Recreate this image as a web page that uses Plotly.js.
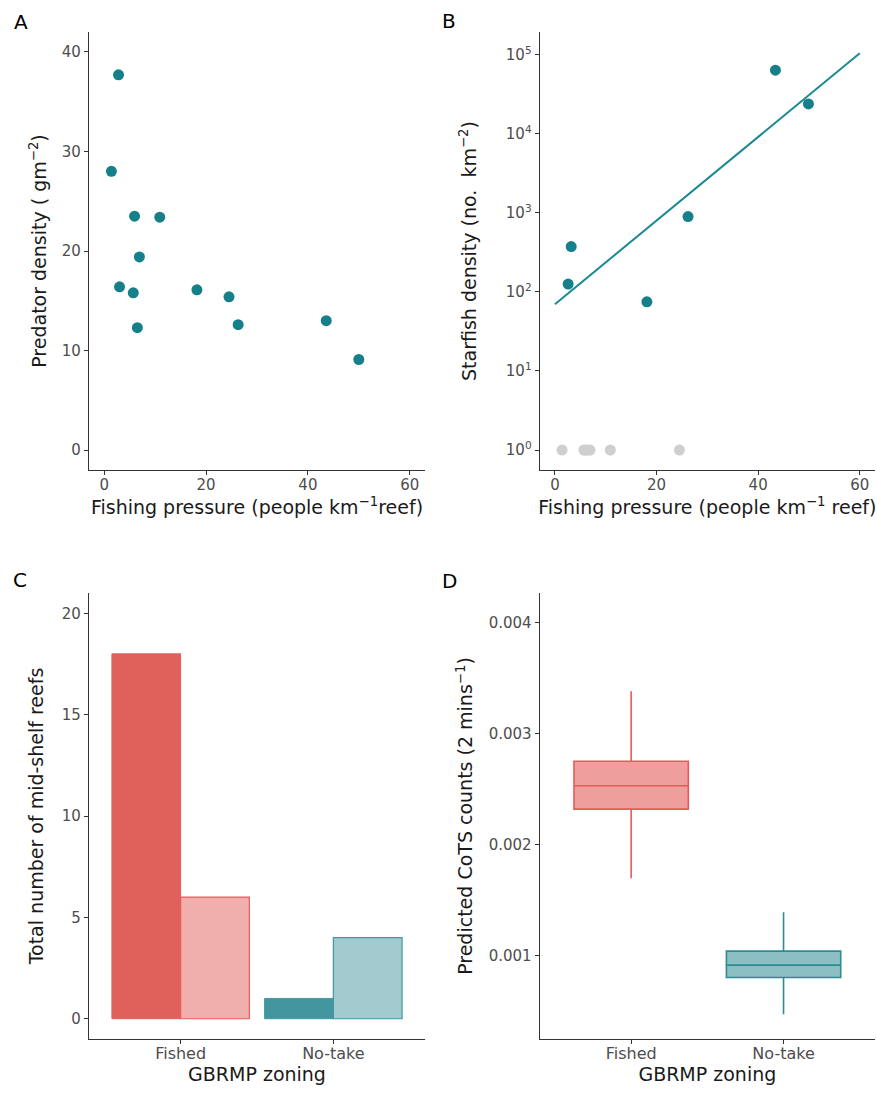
<!DOCTYPE html>
<html>
<head>
<meta charset="utf-8">
<script src="https://cdn.plot.ly/plotly-3.0.1.min.js"></script>
<style>html,body{margin:0;padding:0;background:#fff;}#plot{width:877px;height:1111px;}</style>
</head>
<body>
<div id="plot"></div>
<script>
// Panel A: fishing pressure vs predator density
const fishingA = [2.8, 1.4, 5.95, 10.9, 6.9, 3.0, 5.7, 6.5, 18.2, 24.5, 26.3, 43.6, 50.0];
const predatorA = [37.7, 28.0, 23.5, 23.4, 19.4, 16.4, 15.8, 12.3, 16.1, 15.4, 12.6, 13.0, 9.1];

// Panel B: fishing pressure vs starfish density
const fishingB = [43.4, 49.9, 26.2, 3.2, 2.6, 18.1];
const starfishB = [64000, 24000, 900, 375, 126, 75];
const fishingZero = [1.4, 5.7, 5.95, 6.5, 6.9, 10.9, 24.5];
const starfishZero = [1, 1, 1, 1, 1, 1, 1];
const fitX = [0, 60];
const fitY = [70, 105000];
const logTickVals = [1, 10, 100, 1000, 10000, 100000];
const logTickText = ["10<sup>0</sup>", "10<sup>1</sup>", "10<sup>2</sup>", "10<sup>3</sup>", "10<sup>4</sup>", "10<sup>5</sup>"];

// Panel C: reef counts by zoning
const zoning = ["Fished", "No-take"];
const countsDark = [18, 1];
const countsLight = [6, 4];

// Panel D: predicted CoTS counts (box summaries)
const boxQ1 = [0.002322, 0.000805];
const boxMedian = [0.002533, 0.000916];
const boxQ3 = [0.002753, 0.001042];
const boxLow = [0.0017, 0.000474];
const boxHigh = [0.003385, 0.001392];

const teal = "#16808A";
const FONT = "DejaVu Sans";

const traces = [
  {type: "scatter", mode: "markers", x: fishingA, y: predatorA, xaxis: "x", yaxis: "y",
   marker: {color: teal, size: 11}, showlegend: false},
  {type: "scatter", mode: "markers", x: fishingZero, y: starfishZero, xaxis: "x2", yaxis: "y2",
   marker: {color: "#CFCFCF", size: 11}, showlegend: false},
  {type: "scatter", mode: "lines", x: fitX, y: fitY, xaxis: "x2", yaxis: "y2",
   line: {color: "#1A8A92", width: 2}, showlegend: false},
  {type: "scatter", mode: "markers", x: fishingB, y: starfishB, xaxis: "x2", yaxis: "y2",
   marker: {color: teal, size: 11}, showlegend: false},
  {type: "bar", x: zoning, y: countsDark, xaxis: "x3", yaxis: "y3",
   marker: {color: ["#E0605C", "#42979E"], line: {color: ["#E0605C", "#42979E"], width: 1}}, showlegend: false},
  {type: "bar", x: zoning, y: countsLight, xaxis: "x3", yaxis: "y3",
   marker: {color: ["#F0AEAD", "#A3CBCF"], line: {color: ["#EC5A5A", "#3D9AA2"], width: 1.2}}, showlegend: false},
  {type: "box", x: [zoning[0]], q1: [boxQ1[0]], median: [boxMedian[0]], q3: [boxQ3[0]],
   lowerfence: [boxLow[0]], upperfence: [boxHigh[0]], xaxis: "x4", yaxis: "y4",
   fillcolor: "#EE9E9D", line: {color: "#E65A5A", width: 1.6}, whiskerwidth: 0, width: 0.75,
   boxpoints: false, showlegend: false},
  {type: "box", x: [zoning[1]], q1: [boxQ1[1]], median: [boxMedian[1]], q3: [boxQ3[1]],
   lowerfence: [boxLow[1]], upperfence: [boxHigh[1]], xaxis: "x4", yaxis: "y4",
   fillcolor: "#8CBFC3", line: {color: "#2A8D94", width: 1.6}, whiskerwidth: 0, width: 0.75,
   boxpoints: false, showlegend: false}
];

function ax(extra) {
  return Object.assign({
    showline: true, linecolor: "#333333", linewidth: 1.2,
    ticks: "outside", ticklen: 4, tickwidth: 1.1, tickcolor: "#333333",
    tickfont: {family: FONT, size: 15, color: "#4D4D4D"},
    showgrid: false, zeroline: false, fixedrange: true, automargin: false
  }, extra);
}
function ttl(text, standoff) {
  return {text: text, font: {family: FONT, size: 19, color: "#1A1A1A"}, standoff: standoff};
}
const catFont = {family: FONT, size: 16, color: "#4D4D4D"};

const xL = [89/877, 425/877], xR = [539.7/877, 875/877];
const yT = [1 - 470/1111, 1 - 32/1111], yB = [1 - 1039/1111, 1 - 593/1111];

const layout = {
  width: 877, height: 1111,
  margin: {l: 0, r: 0, t: 0, b: 0},
  paper_bgcolor: "#fff", plot_bgcolor: "#fff",
  font: {family: FONT},
  barmode: "group", bargap: 0.1, bargroupgap: 0,
  boxmode: "overlay",
  xaxis: ax({domain: xL, range: [-3, 63], tickvals: [0, 20, 40, 60], anchor: "y", ticklabelstandoff: -3,
             title: ttl("Fishing pressure (people km<sup>−1</sup>reef)", 6)}),
  yaxis: ax({domain: yT, range: [-2, 42], tickvals: [0, 10, 20, 30, 40], anchor: "x",
             title: ttl("Predator density ( gm<sup>−2</sup>)", 10)}),
  xaxis2: ax({domain: xR, range: [-3, 63], tickvals: [0, 20, 40, 60], anchor: "y2", ticklabelstandoff: -3,
             title: ttl("Fishing pressure (people km<sup>−1</sup> reef)", 6)}),
  yaxis2: ax({domain: yT, type: "log", range: [-0.253, 5.29], tickvals: logTickVals, ticktext: logTickText, anchor: "x2",
             title: ttl("Starfish density (no.  km<sup>−2</sup>)", 24)}),
  xaxis3: ax({domain: xL, type: "category", range: [-0.6, 1.6], anchor: "y3", tickfont: catFont, ticklabelstandoff: -4,
             title: ttl("GBRMP zoning", 0)}),
  yaxis3: ax({domain: yB, range: [-1, 21], tickvals: [0, 5, 10, 15, 20], anchor: "x3",
             title: ttl("Total number of mid-shelf reefs", 13)}),
  xaxis4: ax({domain: xR, type: "category", range: [-0.6, 1.6], anchor: "y4", tickfont: catFont, ticklabelstandoff: -4,
             title: ttl("GBRMP zoning", 0)}),
  yaxis4: ax({domain: yB, range: [0.00025, 0.00427], tickvals: [0.001, 0.002, 0.003, 0.004], tickformat: ".3f", anchor: "x4",
             title: ttl("Predicted CoTS counts (2 mins<sup>−1</sup>)", 10)}),
  annotations: [
    {text: "A", x: 12/877, y: 1 - 22/1111},
    {text: "B", x: 440/877, y: 1 - 21/1111},
    {text: "C", x: 11/877, y: 1 - 580/1111},
    {text: "D", x: 440/877, y: 1 - 581/1111}
  ].map(a => Object.assign({xref: "paper", yref: "paper", xanchor: "left", yanchor: "middle",
        showarrow: false, font: {family: FONT, size: 20, color: "#000"}}, a))
};

Plotly.newPlot("plot", traces, layout, {displayModeBar: false});
</script>
</body>
</html>
